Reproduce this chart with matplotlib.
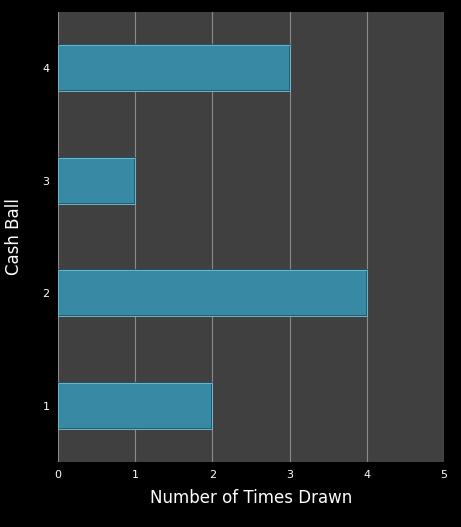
import matplotlib
matplotlib.use("Agg")
import matplotlib.pyplot as plt

categories = [1, 2, 3, 4]
values = [2, 4, 1, 3]
xticks = [0, 1, 2, 3, 4, 5]

fig = plt.figure(figsize=(4.61, 5.27), dpi=100, facecolor="black")
ax = fig.add_axes([58/461, 1-462/527, (444-58)/461, (462-12)/527])
ax.set_facecolor("#404040")
ax.barh(categories, values, height=0.41, color="#3889a3", edgecolor="#1f5566", linewidth=1.2, zorder=3)
# highlight bevel
ax.barh(categories, values, height=0.41, color="none", edgecolor="#7cc3d6", linewidth=0.6, zorder=4)
ax.set_xlim(0, 5)
ax.set_ylim(0.5, 4.5)
ax.set_xticks(xticks)
ax.set_yticks(categories)
ax.grid(axis="x", color="#8a8a8a", linewidth=0.8, zorder=1)
for s in ax.spines.values():
    s.set_visible(False)
ax.tick_params(colors="white", labelsize=8, length=0, pad=6)
ax.set_xlabel("Number of Times Drawn", color="white", fontsize=12, labelpad=6)
ax.set_ylabel("Cash Ball", color="white", fontsize=12, labelpad=14)
fig.savefig("out.png", dpi=100, facecolor="black")
